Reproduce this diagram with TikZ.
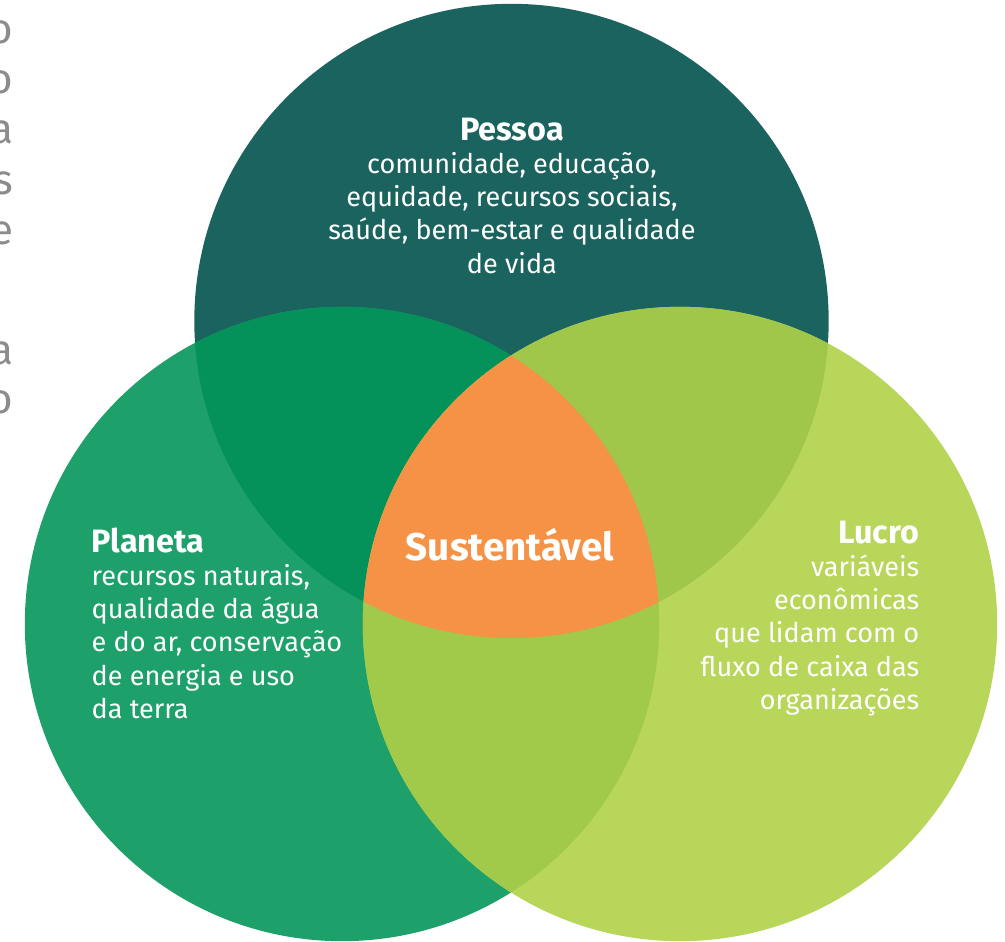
\documentclass[tikz,border=0pt]{standalone}
\usepackage{fontspec}
\setmainfont{Fira Sans}
\usetikzlibrary{positioning}

\definecolor{pessoaclr}{HTML}{1B635E}
\definecolor{planetaclr}{HTML}{1EA06B}
\definecolor{lucroclr}{HTML}{B8D65A}
\definecolor{pessoaplanetaclr}{HTML}{05915A}
\definecolor{pessoalucroclr}{HTML}{A0C64A}
\definecolor{planetalucroclr}{HTML}{A2CA4A}
\definecolor{sustclr}{HTML}{F59246}
\definecolor{marginclr}{HTML}{8C8C8C}

\newcommand{\venntitle}[1]{{\fontsize{9.2}{9.4}\selectfont\bfseries #1}}

\begin{document}
\begin{tikzpicture}[
    x=0.01cm, y=-0.01cm,
    venntext/.style={text=white, inner sep=0pt, font=\fontsize{7.7}{9.45}\selectfont},
    sustext/.style={text=white, inner sep=0pt, font=\fontsize{11}{12}\selectfont\bfseries},
    margintext/.style={text=marginclr, inner sep=0pt, anchor=base east, font=\fontsize{12}{14}\selectfont}
]
    \useasboundingbox (0,0) rectangle (1005,942);
    \clip (0,0) rectangle (1005,942);

    % circle centres
    \coordinate (pessoa) at (511.5,321);
    \coordinate (planeta) at (342,624);
    \coordinate (lucro) at (680,624);

    % the three circles
    \fill[pessoaclr] (pessoa) circle[radius=3.17cm];
    \fill[planetaclr] (planeta) circle[radius=3.17cm];
    \fill[lucroclr] (lucro) circle[radius=3.17cm];

    % overlaps with Pessoa
    \begin{scope}
        \clip (pessoa) circle[radius=3.17cm];
        \fill[pessoaplanetaclr] (planeta) circle[radius=3.17cm];
        \fill[pessoalucroclr] (lucro) circle[radius=3.17cm];
    \end{scope}

    % overlap Planeta/Lucro and the centre
    \begin{scope}
        \clip (planeta) circle[radius=3.17cm];
        \fill[planetalucroclr] (lucro) circle[radius=3.17cm];
        \clip (lucro) circle[radius=3.17cm];
        \fill[sustclr] (pessoa) circle[radius=3.17cm];
    \end{scope}

    % Pessoa
    \node[venntext, align=center, anchor=north] (pessoatxt) at (512,117) {
        \venntitle{Pessoa}\\
        comunidade, educação,\\
        equidade, recursos sociais,\\
        saúde, bem-estar e qualidade\\
        de vida
    };

    % Planeta
    \node[venntext, align=left, anchor=north west] (planetatxt) at (91,527) {
        \venntitle{Planeta}\\
        recursos naturais,\\
        qualidade da água\\
        e do ar, conservação\\
        de energia e uso\\
        da terra
    };

    % Lucro
    \node[venntext, align=right, anchor=north east] (lucrotxt) at (920,520) {
        \venntitle{Lucro}\\
        variáveis\\
        econômicas\\
        que lidam com o\\
        fluxo de caixa das\\
        organizações
    };

    % Sustentavel
    \node[sustext] (sust) at (510,545) {Sustentável};

    % cut-off text at the left margin
    \foreach \ltr/\ypos in {o/43, o/93, a/143, s/194, e/244, a/364, o/413}
        \node[margintext] (m\ypos) at (14,\ypos) {\ltr};
\end{tikzpicture}
\end{document}
